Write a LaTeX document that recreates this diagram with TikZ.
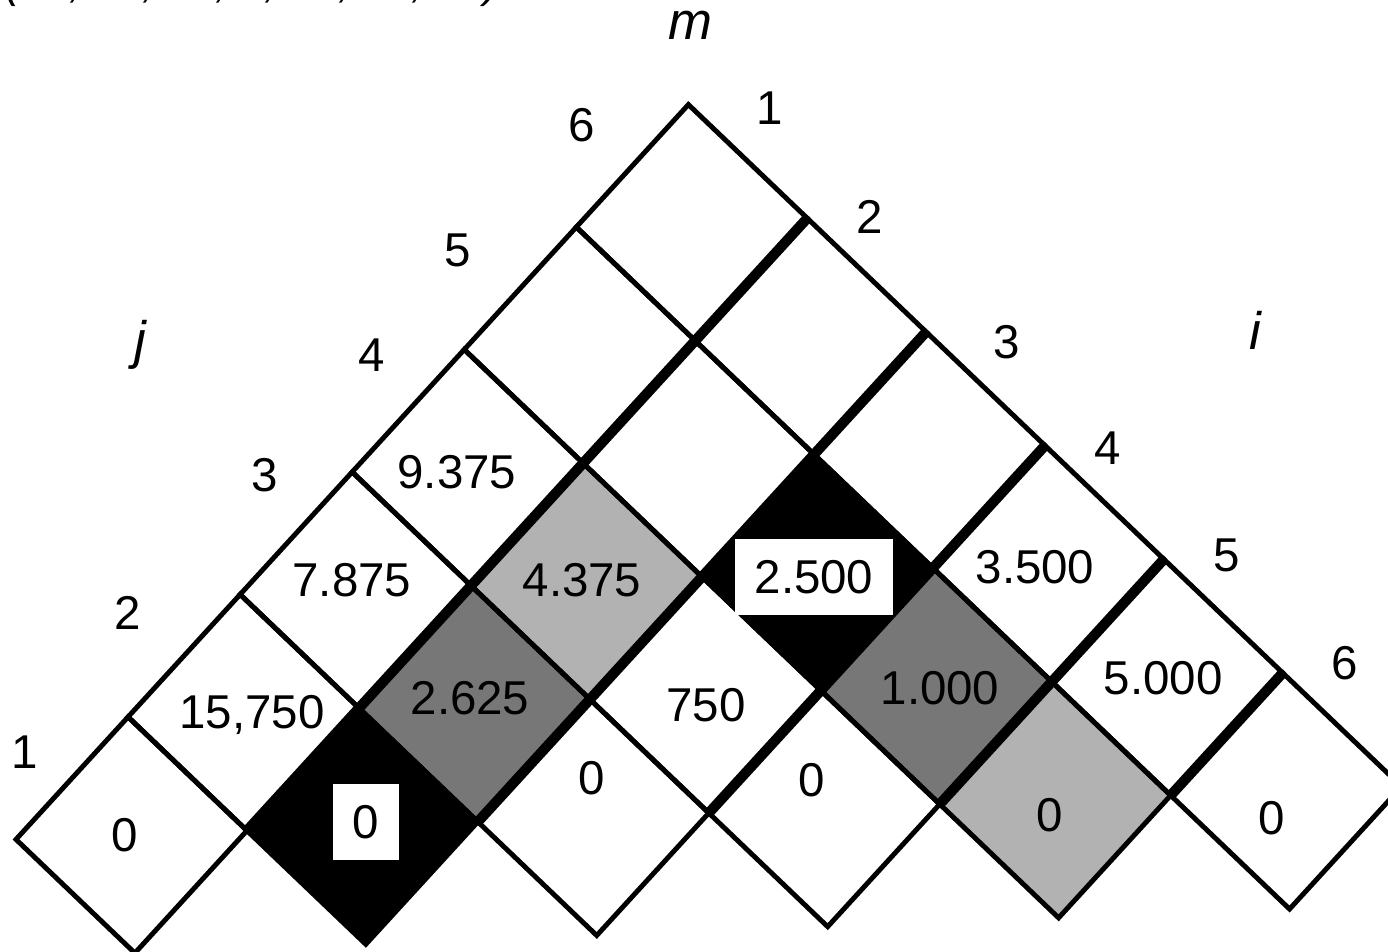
\documentclass[tikz,border=0pt]{standalone}
\usepackage{fontspec}
\setmainfont{Liberation Sans}
\usetikzlibrary{calc}
\definecolor{darkcell}{HTML}{777777}
\definecolor{lightcell}{HTML}{B2B2B2}
\tikzset{
  cellline/.style={draw=black, line width=1.4pt, line join=miter},
  bandline/.style={draw=black, line width=2.9pt},
  valuelabel/.style={font=\fontsize{13.5}{16}\selectfont, inner sep=0pt},
  boxlabel/.style={valuelabel, fill=white, inner xsep=5.6pt, minimum height=0.76cm},
  indexlabel/.style={font=\fontsize{13.5}{16}\selectfont, inner sep=0pt},
  axislabel/.style={font=\fontsize{15}{18}\selectfont\itshape, inner sep=0pt},
}
% one diamond of the table, in lattice units
\newcommand{\cellpath}[2]{(#1-1,#2-1) -- (#1-1,#2) -- (#1,#2) -- (#1,#2-1) -- cycle}

\begin{document}
\begin{tikzpicture}[x=0.01cm, y=-0.01cm]
  \useasboundingbox (0,0) rectangle (1388,951);
  % dimensions, cut off at the top
  \node[axislabel, font=\fontsize{12.5}{15}\selectfont\itshape, anchor=base west] (dims) at (5,-3) {(30, 35, 15, 5, 10, 20, 25)};

  \begin{scope}[shift={(16,839.4)}, x={(1.188cm,-1.136cm)}, y={(1.12cm,1.224cm)}]
    % shaded cells
    \foreach \i/\j/\tone in {2/2/black, 2/3/darkcell, 2/4/lightcell,
                             3/5/black, 4/5/darkcell, 5/5/lightcell}
      \fill[\tone] \cellpath{\i}{\j};
    % grid
    \foreach \i in {1,...,6}
      \foreach \j in {\i,...,6}
        \draw[cellline] \cellpath{\i}{\j};
    % borders between the i bands
    \foreach \i in {1,...,5}
      \draw[bandline] (\i,\i) -- (\i,6);
  \end{scope}

  % values
  \foreach \i/\j/\val/\px/\py in {1/1/0/125/835, 3/3/0/592/778, 4/4/0/812/780,
      5/5/0/1050/815, 6/6/0/1272/818, 1/2/{15,750}/252/715, 2/3/2.625/470/698,
      3/4/750/706/705, 4/5/1.000/940/688, 5/6/5.000/1163/678, 1/3/7.875/352/580,
      2/4/4.375/582/580, 4/6/3.500/1035/567, 1/4/9.375/457/472}
    \node[valuelabel] (m-\i-\j) at (\px,\py) {\val};
  \node[boxlabel] (m-2-2) at (366,822) {0};
  \node[boxlabel] (m-3-5) at (814,577) {2.500};

  % index numbers
  \foreach \k/\px/\py in {1/25/752, 2/128/613, 3/265/475, 4/372/355, 5/458/250, 6/582/125}
    \node[indexlabel] (j-\k) at (\px,\py) {\k};
  \foreach \k/\px/\py in {1/770/108, 2/870/217, 3/1007/342, 4/1108/448, 5/1227/555, 6/1345/663}
    \node[indexlabel] (i-\k) at (\px,\py) {\k};

  \node[axislabel] (mlabel) at (690,25) {m};
  \node[axislabel] (jlabel) at (140,345) {j};
  \node[axislabel] (ilabel) at (1255,330) {i};
\end{tikzpicture}
\end{document}
